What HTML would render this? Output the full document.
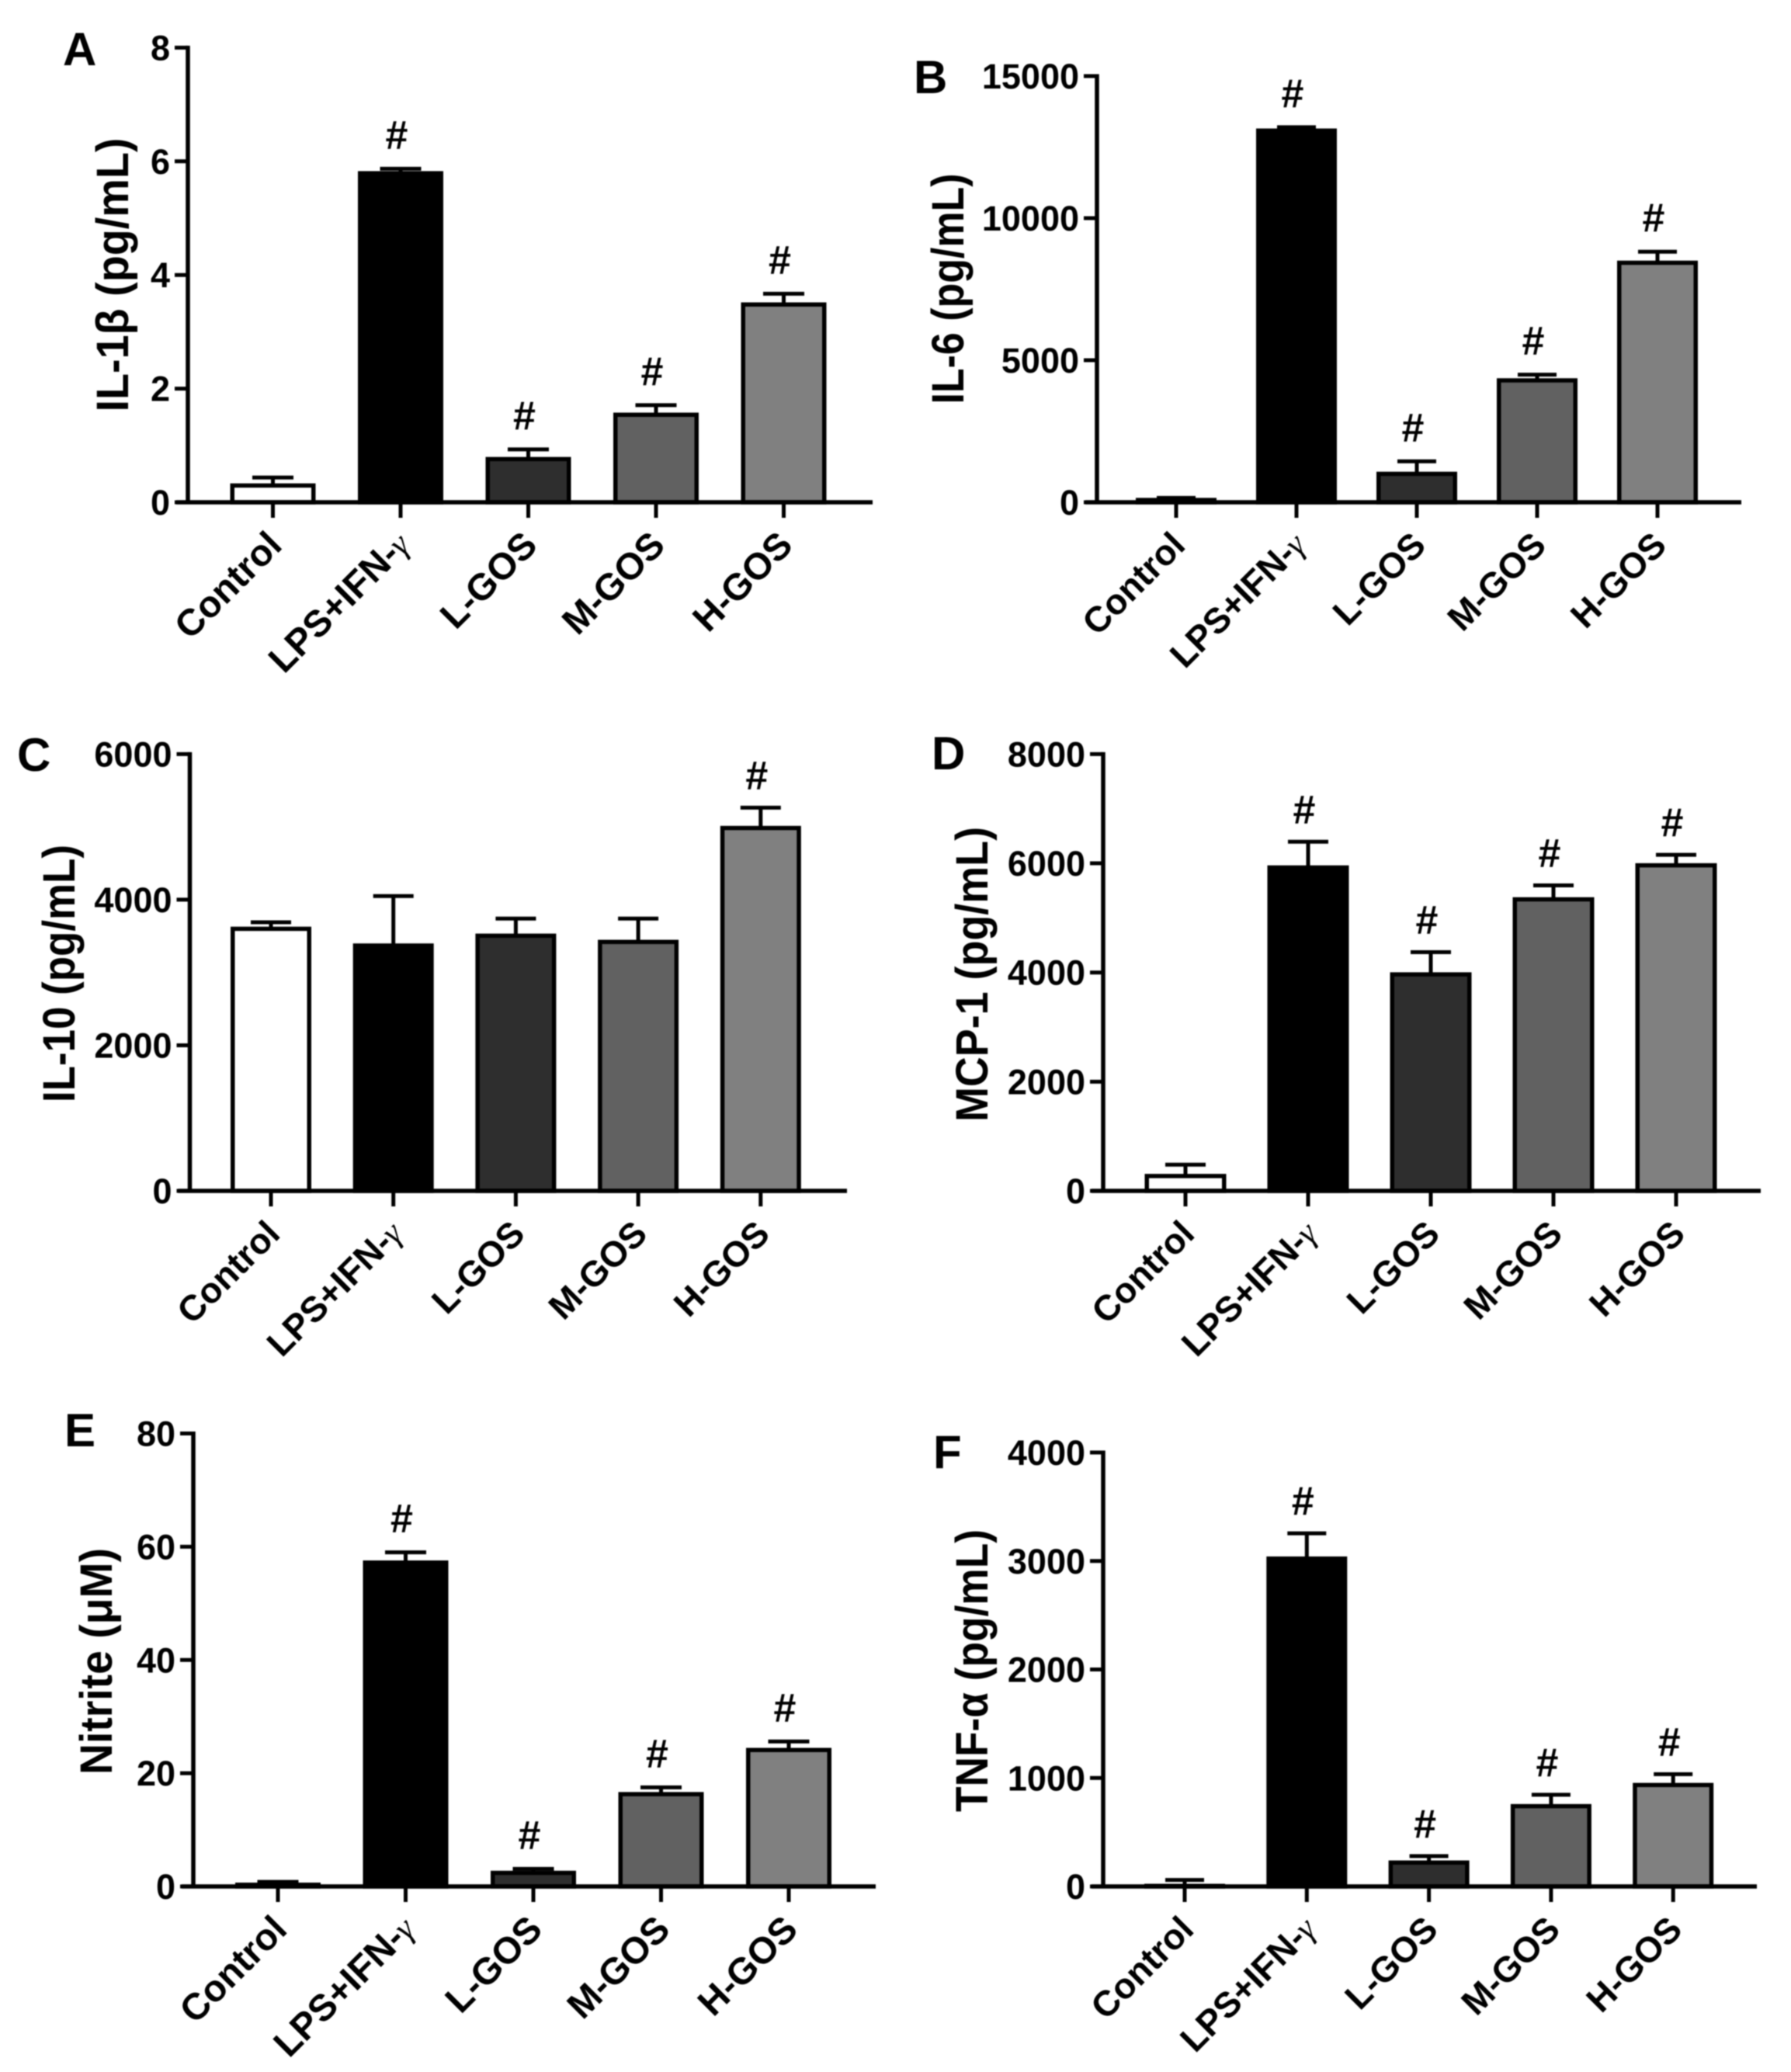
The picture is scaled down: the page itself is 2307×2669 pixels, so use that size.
<!DOCTYPE html>
<html lang="en">
<head>
<meta charset="utf-8">
<title>Cytokine bar charts</title>
<style>
html,body{margin:0;padding:0;background:#fff;}
svg{display:block;filter:blur(0.7px);}
text{font-family:"Liberation Sans",Arial,sans-serif;font-weight:700;fill:#000;}
</style>
</head>
<body>
<svg id="figure" xmlns="http://www.w3.org/2000/svg" width="2307" height="2669" viewBox="0 0 2307 2669"></svg>
<script>
const categories = ['Control', 'LPS+IFN-', 'L-GOS', 'M-GOS', 'H-GOS'];
const categorySuffix = ['', 'γ', '', '', ''];
const barFills = ['#ffffff', '#000000', '#2e2e2e', '#616161', '#808080'];

const il1bValues = [0.295, 5.79, 0.76, 1.54, 3.48];
const il1bErrors = [0.435, 5.87, 0.93, 1.71, 3.67];
const il1bHash = [0, 1, 1, 1, 1];
const il1bTicks = [0, 2, 4, 6, 8];

const il6Values = [80, 13080, 1000, 4290, 8430];
const il6Errors = [155, 13200, 1440, 4490, 8820];
const il6Hash = [0, 1, 1, 1, 1];
const il6Ticks = [0, 5000, 10000, 15000];

const il10Values = [3600, 3370, 3505, 3420, 4985];
const il10Errors = [3690, 4050, 3741, 3741, 5264];
const il10Hash = [0, 0, 0, 0, 1];
const il10Ticks = [0, 2000, 4000, 6000];

const mcp1Values = [272, 5923, 3965, 5340, 5963];
const mcp1Errors = [480, 6395, 4373, 5596, 6155];
const mcp1Hash = [0, 1, 1, 1, 1];
const mcp1Ticks = [0, 2000, 4000, 6000, 8000];

const nitriteValues = [0.3, 57.2, 2.4, 16.3, 24.1];
const nitriteErrors = [0.8, 59.0, 3.1, 17.5, 25.6];
const nitriteHash = [0, 1, 1, 1, 1];
const nitriteTicks = [0, 20, 40, 60, 80];

const tnfValues = [5, 3022, 220, 740, 935];
const tnfErrors = [60, 3255, 280, 845, 1035];
const tnfHash = [0, 1, 1, 1, 1];
const tnfTicks = [0, 1000, 2000, 3000, 4000];

const SVGNS = 'http://www.w3.org/2000/svg';
const figure = document.getElementById('figure');

function make(parent, tag, attrs, content) {
  const el = document.createElementNS(SVGNS, tag);
  for (const k in attrs) el.setAttribute(k, attrs[k]);
  if (content !== undefined) el.textContent = content;
  parent.appendChild(el);
  return el;
}

function drawPanel(p) {
  const yMax = p.ticks[p.ticks.length - 1];
  const yScale = v => p.y0 - (v / yMax) * (p.y0 - p.yTop);
  const xScale = i => p.x0 + i * p.step;
  const sw = 5.5;

  const group = make(figure, 'g', {});
  
  

  const letter = make(group, 'text', {x: p.letterX, y: p.letterY, 'font-size': 60}, p.letter);
  
  

  const title = make(group, 'text', {
    transform: 'translate(' + p.titleX + ',' + p.titleY + ') rotate(-90)',
    'text-anchor': 'middle', 'font-size': 58,
    textLength: p.titleLen, lengthAdjust: 'spacingAndGlyphs'
  }, p.title);
  
  

  p.values.forEach((v, i) => {
    const c = xScale(i);
    const stem = make(group, 'line', {x1: c, x2: c, y1: yScale(v), y2: yScale(p.errors[i]), stroke: '#000', 'stroke-width': 5});
    
    

    const cap = make(group, 'line', {x1: c - p.cap / 2, x2: c + p.cap / 2, y1: yScale(p.errors[i]), y2: yScale(p.errors[i]), stroke: '#000', 'stroke-width': 5});
    
    

    const bar = make(group, 'rect', {
      x: c - p.barW / 2 + sw / 2, y: yScale(v), width: p.barW - sw,
      height: Math.max(0, p.y0 - yScale(v)), fill: barFills[i], stroke: '#000', 'stroke-width': sw
    });
    
    

    if (p.hash[i]) {
      const hash = make(group, 'text', {x: c - 5, y: yScale(p.errors[i]) - p.hashGap, 'text-anchor': 'middle', 'font-size': 52}, '#');
      
      
    }

    const xTick = make(group, 'line', {x1: c, x2: c, y1: p.y0, y2: p.y0 + 20, stroke: '#000', 'stroke-width': 5});
    
    

    const label = make(group, 'text', {
      transform: 'translate(' + (c + 14) + ',' + (p.y0 + 58) + ') rotate(-45)',
      'text-anchor': 'end', 'font-size': p.labelSize
    }, categories[i]);
    
    
    if (categorySuffix[i]) {
      const gamma = make(label, 'tspan', {'font-family': '"Liberation Serif",serif', 'font-weight': 400, 'font-style': 'italic', 'font-size': 44}, categorySuffix[i]);
      
      
    }
  });

  p.ticks.forEach(t => {
    const yTick = make(group, 'line', {x1: p.axisX - 17, x2: p.axisX, y1: yScale(t), y2: yScale(t), stroke: '#000', 'stroke-width': 5});
    
    

    const tickLabel = make(group, 'text', {x: p.axisX - 23, y: yScale(t) + 16, 'text-anchor': 'end', 'font-size': 45}, String(t));
    
    
  });

  const yAxis = make(group, 'line', {x1: p.axisX, x2: p.axisX, y1: p.yTop - 2.5, y2: p.y0 + 2.5, stroke: '#000', 'stroke-width': 5.5});
  
  

  const xAxis = make(group, 'line', {x1: p.axisX - 15, x2: p.xEnd, y1: p.y0, y2: p.y0, stroke: '#000', 'stroke-width': 5.5});
  
  
}

drawPanel({id: 'il-1b', letter: 'A', letterX: 81, letterY: 84, title: 'IL-1β (pg/mL)', titleX: 165, titleY: 354, titleLen: 353,
  values: il1bValues, errors: il1bErrors, hash: il1bHash, ticks: il1bTicks, labelSize: 48,
  axisX: 242, xEnd: 1124, y0: 647, yTop: 61.4, x0: 351.5, step: 164.5, barW: 110, cap: 53, hashGap: 26});
drawPanel({id: 'il-6', letter: 'B', letterX: 1177, letterY: 120, title: 'IL-6 (pg/mL)', titleX: 1241, titleY: 372, titleLen: 297,
  values: il6Values, errors: il6Errors, hash: il6Hash, ticks: il6Ticks, labelSize: 46,
  axisX: 1413, xEnd: 2243, y0: 647, yTop: 98, x0: 1515, step: 155, barW: 104, cap: 50, hashGap: 26});
drawPanel({id: 'il-10', letter: 'C', letterX: 22, letterY: 993, title: 'IL-10 (pg/mL)', titleX: 96, titleY: 1254, titleLen: 332,
  values: il10Values, errors: il10Errors, hash: il10Hash, ticks: il10Ticks, labelSize: 46,
  axisX: 244.5, xEnd: 1091, y0: 1534, yTop: 971.4, x0: 349, step: 157.7, barW: 104, cap: 52, hashGap: 24});
drawPanel({id: 'mcp-1', letter: 'D', letterX: 1200, letterY: 991, title: 'MCP-1 (pg/mL)', titleX: 1272, titleY: 1255, titleLen: 380,
  values: mcp1Values, errors: mcp1Errors, hash: mcp1Hash, ticks: mcp1Ticks, labelSize: 46,
  axisX: 1421, xEnd: 2268, y0: 1534, yTop: 971.4, x0: 1527, step: 158, barW: 105, cap: 52, hashGap: 24});
drawPanel({id: 'nitrite', letter: 'E', letterX: 83, letterY: 1863, title: 'Nitrite (μM)', titleX: 144, titleY: 2140, titleLen: 292,
  values: nitriteValues, errors: nitriteErrors, hash: nitriteHash, ticks: nitriteTicks, labelSize: 48,
  axisX: 249, xEnd: 1128, y0: 2430, yTop: 1846.5, x0: 358, step: 164.5, barW: 110, cap: 53, hashGap: 26});
drawPanel({id: 'tnf-a', letter: 'F', letterX: 1202, letterY: 1891, title: 'TNF-α (pg/mL)', titleX: 1272, titleY: 2152, titleLen: 364,
  values: tnfValues, errors: tnfErrors, hash: tnfHash, ticks: tnfTicks, labelSize: 46,
  axisX: 1421, xEnd: 2263, y0: 2430, yTop: 1871, x0: 1526, step: 157.3, barW: 104, cap: 50, hashGap: 24});
</script>
</body>
</html>
